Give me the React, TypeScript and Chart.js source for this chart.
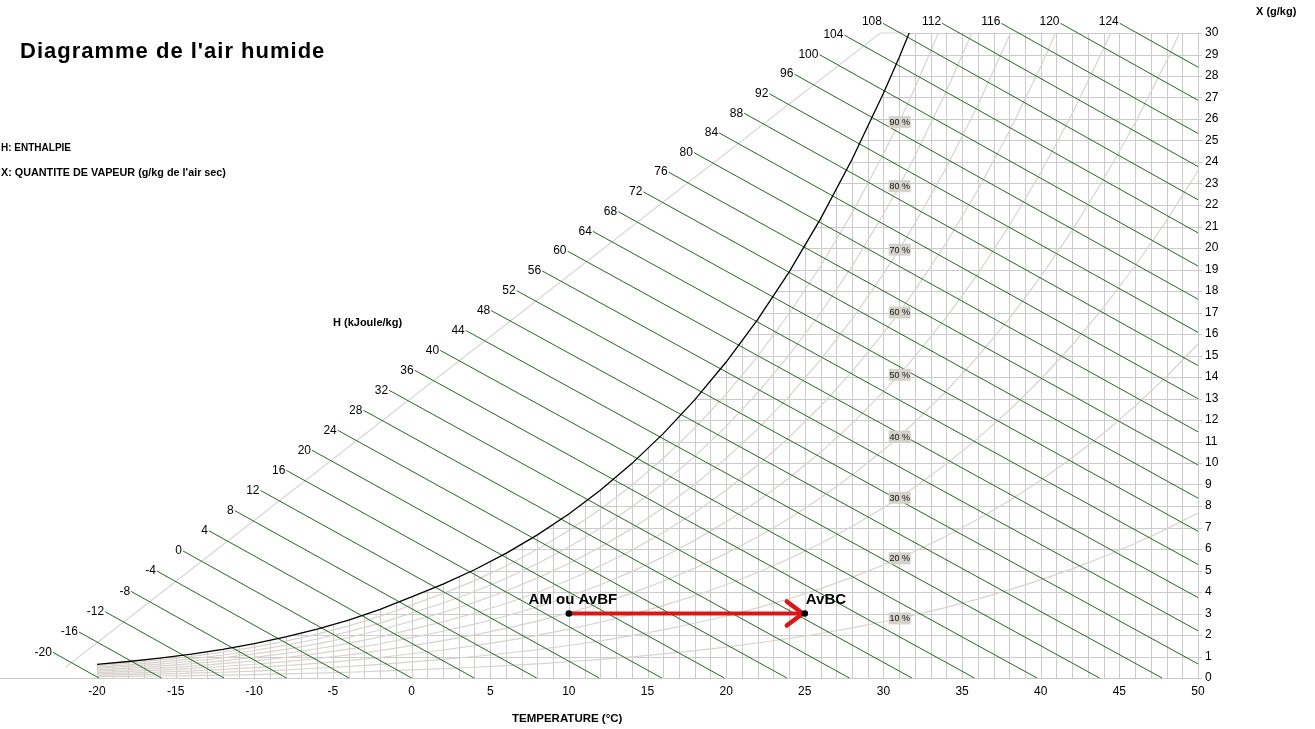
import React, { useEffect, useRef } from 'react';
import { Chart, registerables } from 'chart.js';

Chart.register(...registerables);

// ---------- data ----------
const TEMP_MIN = -20;
const TEMP_MAX = 50;
const TEMP_STEP = 5;
const HUM_MIN = 0;
const HUM_MAX = 30;
const HUM_STEP = 1;

// enthalpy iso-lines (kJ/kg)
const ENTHALPY_VALUES = [-20, -16, -12, -8, -4, 0, 4, 8, 12, 16, 20, 24, 28, 32, 36, 40, 44, 48, 52, 56, 60, 64, 68, 72, 76, 80, 84, 88, 92, 96, 100, 104, 108, 112, 116, 120, 124];

// saturation vapour pressure table (temperature °C -> kPa)
const TABLE_T = [-20, -18, -16, -14, -12, -10, -8, -6, -4, -2, 0, 2, 4, 6, 8, 10, 12, 14, 16, 18, 20, 22, 24, 26, 28, 30, 31, 32, 34, 36, 38, 40, 42, 44, 46, 48, 50];
const TABLE_PS = [0.1032, 0.1248, 0.1505, 0.1811, 0.2172, 0.2599, 0.3099, 0.3685, 0.4372, 0.5173, 0.6112, 0.706, 0.8135, 0.9353, 1.0729, 1.2281, 1.4027, 1.5988, 1.8185, 2.0644, 2.3388, 2.6447, 2.985, 3.3629, 3.7818, 4.2455, 4.4929, 4.7578, 5.3229, 5.9453, 6.6298, 7.3814, 8.2054, 9.1075, 10.094, 11.171, 12.344];
const P_ATM = 101.325;

// relative humidity curves (%)
const RH_LEVELS = [10, 20, 30, 40, 50, 60, 70, 80, 90];
const RH_LABEL_T = 31;

// start guide of enthalpy lines (T, X)
const GUIDE_T = [-22.88, 27.66];
const GUIDE_X = [1.15, 29.98];
const TOP_START_X = 30.45;

// light grey outline
const OUTLINE_T = [-22, -22, 29.8, 31.6];
const OUTLINE_X = [0, 0.5, 30, 30];

// the two air states
const STATE_NAMES = ['AM ou AvBF', 'AvBC'];
const STATE_T = [10, 25];
const STATE_X = [3, 3];

// ---------- styles ----------
const FONT = 'Arial, "Liberation Sans", sans-serif';
const GRID_COLOR = '#cbcbcb';
const RH_COLOR = '#d8d3cd';
const ENTH_COLOR = '#286428';
const RED = '#dc1616';

function humidityRatio(ps: number, phi: number) {
  return (622 * phi * ps) / (P_ATM - phi * ps);
}
function enthalpyAt(T: number, X: number) {
  return 1.006 * T + X * (2.501 + 0.00186 * T);
}
function guideX(T: number) {
  return GUIDE_X[0] + ((T - GUIDE_T[0]) * (GUIDE_X[1] - GUIDE_X[0])) / (GUIDE_T[1] - GUIDE_T[0]);
}
function enthalpyStart(h: number) {
  let lo = -40;
  let hi = 60;
  for (let i = 0; i < 60; i++) {
    const mid = (lo + hi) / 2;
    if (enthalpyAt(mid, guideX(mid)) < h) lo = mid;
    else hi = mid;
  }
  let T = (lo + hi) / 2;
  let X = guideX(T);
  if (X > TOP_START_X) {
    X = TOP_START_X;
    T = (h - X * 2.501) / (1.006 + X * 0.00186);
  }
  return { x: T, y: X };
}
function enthalpyEnd(h: number) {
  const T0 = h / 1.006;
  if (T0 <= TEMP_MAX) return { x: T0, y: 0 };
  return { x: TEMP_MAX, y: (h - 1.006 * TEMP_MAX) / (2.501 + 0.00186 * TEMP_MAX) };
}

const satPoints = TABLE_T.map((t, i) => ({ x: t, y: humidityRatio(TABLE_PS[i], 1) }));

const psychroPlugin = {
  id: 'psychro',
  beforeDatasetsDraw(chart: any) {
    const { ctx, chartArea, scales } = chart;
    const xs = scales.x;
    const ys = scales.y;
    const px = (v: number) => xs.getPixelForValue(v);
    const py = (v: number) => ys.getPixelForValue(v);
    ctx.save();
    ctx.beginPath();
    ctx.rect(chartArea.left - 1, chartArea.top - 1, chartArea.right - chartArea.left + 6, chartArea.bottom - chartArea.top + 2);
    ctx.clip();
    ctx.beginPath();
    ctx.moveTo(px(TEMP_MIN) - 1, py(0) + 2);
    ctx.lineTo(px(satPoints[0].x) - 1, py(satPoints[0].y));
    satPoints.forEach((p) => ctx.lineTo(px(p.x), py(p.y)));
    ctx.lineTo(px(TEMP_MAX) + 8, py(satPoints[satPoints.length - 1].y));
    ctx.lineTo(px(TEMP_MAX) + 8, py(0) + 2);
    ctx.closePath();
    ctx.clip();
    ctx.strokeStyle = GRID_COLOR;
    ctx.lineWidth = 1;
    ctx.beginPath();
    for (let t = TEMP_MIN; t <= TEMP_MAX; t++) {
      const x = Math.round(px(t)) + 0.5;
      ctx.moveTo(x, py(HUM_MIN));
      ctx.lineTo(x, py(HUM_MAX));
    }
    for (let w = HUM_MIN; w <= HUM_MAX; w += HUM_STEP) {
      const y = Math.round(py(w)) + 0.5;
      ctx.moveTo(px(TEMP_MIN), y);
      ctx.lineTo(px(TEMP_MAX) + 4, y);
    }
    ctx.stroke();
    ctx.restore();

    ctx.save();
    ctx.strokeStyle = GRID_COLOR;
    ctx.lineWidth = 1;
    ctx.beginPath();
    const yb = Math.round(py(0)) + 0.5;
    ctx.moveTo(0, yb);
    ctx.lineTo(px(TEMP_MAX) + 4, yb);
    ctx.stroke();
    ctx.restore();
  },
  afterDatasetsDraw(chart: any) {
    const { ctx, scales } = chart;
    const xs = scales.x;
    const ys = scales.y;
    const px = (v: number) => xs.getPixelForValue(v);
    const py = (v: number) => ys.getPixelForValue(v);
    ctx.save();
    ctx.font = `12px ${FONT}`;
    ctx.fillStyle = '#000';
    ctx.textAlign = 'right';
    ctx.textBaseline = 'middle';
    ENTHALPY_VALUES.forEach((h) => {
      const s = enthalpyStart(h);
      const dy = s.y > 30.2 ? -2 : 0;
      ctx.fillText(String(h), px(s.x) - 1, py(s.y) + dy);
    });

    const li = TABLE_T.indexOf(RH_LABEL_T);
    ctx.font = `9px ${FONT}`;
    ctx.textAlign = 'center';
    RH_LEVELS.forEach((r) => {
      const X = humidityRatio(TABLE_PS[li], r / 100);
      const cx = px(RH_LABEL_T) + 0.5;
      const cy = py(X);
      ctx.fillStyle = '#d5d1cb';
      ctx.fillRect(cx - 11, cy - 6, 22, 12);
      ctx.fillStyle = '#111';
      ctx.fillText(`${r} %`, cx, cy + 0.5);
    });

    const x1 = px(STATE_T[1]);
    const y1 = py(STATE_X[1]);
    ctx.strokeStyle = RED;
    ctx.lineWidth = 4.5;
    ctx.lineCap = 'round';
    ctx.lineJoin = 'round';
    ctx.beginPath();
    ctx.moveTo(x1 - 18, y1 - 12);
    ctx.lineTo(x1 - 2, y1);
    ctx.lineTo(x1 - 18, y1 + 12);
    ctx.stroke();
    ctx.restore();
  },
  afterDraw(chart: any) {
    const { ctx, scales } = chart;
    const xs = scales.x;
    const ys = scales.y;
    ctx.save();
    ctx.fillStyle = '#000';
    STATE_T.forEach((t, i) => {
      ctx.beginPath();
      ctx.arc(xs.getPixelForValue(t), ys.getPixelForValue(STATE_X[i]), 3.3, 0, Math.PI * 2);
      ctx.fill();
    });
    ctx.font = `bold 15px ${FONT}`;
    ctx.textBaseline = 'alphabetic';
    ctx.textAlign = 'center';
    ctx.fillText(STATE_NAMES[0], xs.getPixelForValue(STATE_T[0]) + 4, ys.getPixelForValue(STATE_X[0]) - 10);
    ctx.textAlign = 'left';
    ctx.fillText(STATE_NAMES[1], xs.getPixelForValue(STATE_T[1]) + 1, ys.getPixelForValue(STATE_X[1]) - 10);

    ctx.textAlign = 'left';
    ctx.font = `bold 22px ${FONT}`;
    try { (ctx as any).letterSpacing = '1px'; } catch (e) {}
    ctx.fillText("Diagramme de l'air humide", 20, 58);
    try { (ctx as any).letterSpacing = '0px'; } catch (e) {}
    ctx.textBaseline = 'middle';
    ctx.font = `bold 10px ${FONT}`;
    ctx.fillText('H: ENTHALPIE', 1, 148);
    ctx.font = `bold 10.8px ${FONT}`;
    ctx.fillText("X: QUANTITE DE VAPEUR (g/kg de l'air sec)", 1, 173);
    ctx.font = `bold 11px ${FONT}`;
    ctx.fillText('H (kJoule/kg)', 333, 323);
    ctx.fillText('X (g/kg)', 1256, 12);
    ctx.font = `bold 11.5px ${FONT}`;
    ctx.fillText('TEMPERATURE (°C)', 512, 719);
    ctx.restore();
  },
};

export default function App() {
  const canvasRef = useRef<HTMLCanvasElement | null>(null);

  useEffect(() => {
    if (!canvasRef.current) return;

    const enthalpySets = ENTHALPY_VALUES.map((h) => ({
      type: 'line' as const,
      label: `H ${h}`,
      data: [enthalpyStart(h), enthalpyEnd(h)],
      borderColor: ENTH_COLOR,
      borderWidth: 1,
      pointRadius: 0,
      tension: 0,
      clip: false as any,
      order: 3,
    }));

    const rhSets = RH_LEVELS.map((r) => ({
      type: 'line' as const,
      label: `${r} %`,
      data: TABLE_T.map((t, i) => ({ x: t, y: humidityRatio(TABLE_PS[i], r / 100) })),
      borderColor: RH_COLOR,
      borderWidth: 1.2,
      pointRadius: 0,
      tension: 0,
      order: 4,
    }));

    const chart = new Chart(canvasRef.current, {
      type: 'line',
      data: {
        datasets: [
          {
            label: 'transformation',
            data: STATE_T.map((t, i) => ({ x: t, y: STATE_X[i] })),
            borderColor: RED,
            borderWidth: 4,
            pointRadius: 0,
            tension: 0,
            order: 0,
          },
          {
            label: 'saturation',
            data: satPoints,
            borderColor: '#000',
            borderWidth: 1.3,
            pointRadius: 0,
            tension: 0,
            order: 1,
          },
          ...enthalpySets,
          ...rhSets,
          {
            label: 'outline',
            data: OUTLINE_T.map((t, i) => ({ x: t, y: OUTLINE_X[i] })),
            borderColor: '#d6d6d6',
            borderWidth: 1.2,
            pointRadius: 0,
            tension: 0,
            clip: false as any,
            order: 5,
          },
        ] as any,
      },
      options: {
        animation: false,
        responsive: false,
        devicePixelRatio: 1,
        parsing: false as any,
        layout: { padding: { left: 97, top: 33, right: 0, bottom: 0 } },
        plugins: {
          legend: { display: false },
          tooltip: { enabled: false },
          title: { display: false },
        },
        scales: {
          x: {
            type: 'linear',
            position: 'bottom',
            min: TEMP_MIN,
            max: TEMP_MAX,
            afterFit: (s: any) => { s.height = 51; },
            ticks: { stepSize: TEMP_STEP, color: '#000', font: { family: FONT, size: 12 }, padding: 6, maxRotation: 0 },
            grid: { display: false, drawTicks: false },
            border: { display: false },
          },
          y: {
            type: 'linear',
            position: 'right',
            min: HUM_MIN,
            max: HUM_MAX,
            afterFit: (s: any) => { s.width = 117; },
            ticks: { stepSize: HUM_STEP, color: '#000', font: { family: FONT, size: 12 }, padding: 7 },
            grid: { display: false, drawTicks: false },
            border: { display: false },
          },
        },
      } as any,
      plugins: [psychroPlugin as any],
    });
    return () => chart.destroy();
  }, []);

  return (
    <div style={{ position: 'absolute', left: 0, top: 0, width: 1315, height: 729, background: '#fff' }}>
      <canvas ref={canvasRef} width={1315} height={729} style={{ display: 'block' }} />
    </div>
  );
}
